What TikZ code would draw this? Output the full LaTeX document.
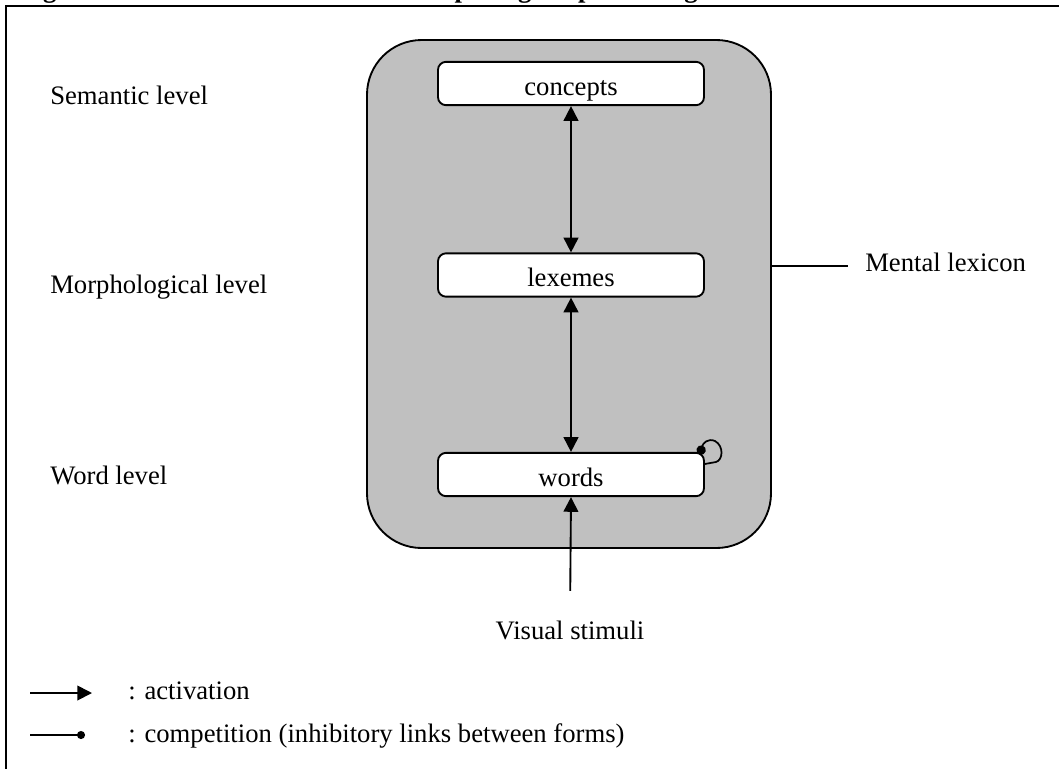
\documentclass[tikz,border=0pt]{standalone}
\usepackage{fontspec}
\setmainfont{Liberation Serif}
\usetikzlibrary{arrows.meta}
\definecolor{lexgray}{RGB}{192,192,192}
\begin{document}
\begin{tikzpicture}[x=0.75pt,y=-0.75pt,
  every node/.style={font=\fontsize{20}{24}\selectfont},
  lvl/.style={anchor=base west, inner sep=0pt},
  unit/.style={draw=black, line width=1.4pt, fill=white, rounded corners=6pt,
    minimum width=199.5pt, minimum height=32.5pt, inner ysep=0pt,
    text height=21.5pt, text depth=4pt},
  act/.style={line width=1.4pt, -{Triangle[length=11pt,width=11pt]}},
  bi/.style={line width=1.4pt, {Triangle[length=11pt,width=11pt]}-{Triangle[length=11pt,width=11pt]}},
  comp/.style={line width=1.3pt, -{Circle[length=7pt]}},
  plain/.style={line width=1.4pt},
]
\useasboundingbox (0,0) rectangle (1059,768);
% frame (only top and left visible)
\draw[line width=1.6pt] (6,775) -- (6,6) -- (1065,6);
% title, mostly cut off at the top
\node[anchor=base east, inner sep=0pt, font=\bfseries\fontsize{20}{24}\selectfont] (title) at (698,-2.5)
  {Figure 1: Lexeme-based model of morphological processing};
% mental lexicon
\node[draw=black, line width=1.4pt, fill=lexgray, rounded corners=41pt,
  minimum width=303pt, minimum height=381pt] (lexicon) at (569,294) {};
\node[unit] (concepts) at (571,83.5) {concepts};
\node[unit] (lexemes) at (571,275) {lexemes};
\node[unit] (words) at (571,474.5) {words};
% level labels
\node[lvl] (sem) at (50,104) {Semantic level};
\node[lvl] (mor) at (50,293) {Morphological level};
\node[lvl] (wrd) at (50,484) {Word level};
\node[lvl] (ml) at (865,271) {Mental lexicon};
\node[anchor=base, inner sep=0pt] (vs) at (570,639) {Visual stimuli};
% connectors
\draw[bi] (concepts.south) -- (lexemes.north);
\draw[bi] (lexemes.south) -- (words.north);
\draw[act, shorten <=22pt] (vs.north) -- (words.south);
\draw[plain, shorten >=13pt] ([yshift=-3pt]ml.west -| lexicon.east) -- ([yshift=-3pt]ml.west);
\draw[comp] ([yshift=7.9pt]words.east) -- (716,462)
  .. controls (723,460) and (724,446) .. (715,441)
  .. controls (708,438) and (703,443) .. ([xshift=-3.75pt,yshift=-2pt]words.north east);
% legend
\coordinate (a1) at (30,693);
\coordinate (a2) at (92,693);
\coordinate (c1) at (30,735);
\coordinate (c2) at (85,735);
\draw[act] (a1) -- (a2);
\draw[line width=1.3pt, -{Circle[length=6pt]}] (c1) -- (c2);
\node[lvl] (la) at (128,699) {: activation};
\node[lvl] (lc) at (128,742) {: competition (inhibitory links between forms)};
\end{tikzpicture}
\end{document}
